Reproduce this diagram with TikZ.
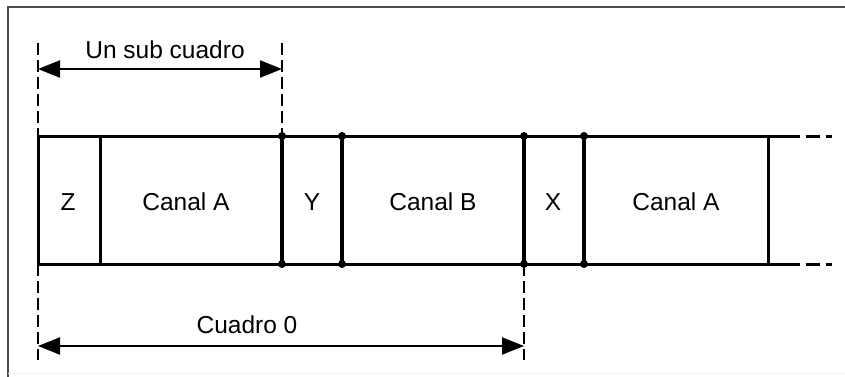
\documentclass[tikz,border=0pt]{standalone}
\usepackage{fontspec}
\setmainfont{Liberation Sans}
\usetikzlibrary{arrows.meta}

\begin{document}
\begin{tikzpicture}[x=1pt,y=-1pt,font=\fontsize{24.5}{28}\selectfont,
  band/.style={line width=3pt},
  sep/.style={line width=4pt},
  dim/.style={line width=2.2pt,{Triangle[length=22pt,width=17pt]}-{Triangle[length=22pt,width=17pt]}},
  guide/.style={line width=1.8pt,dash pattern=on 12pt off 5pt}]
  \useasboundingbox (0,0) rectangle (845,377);
  % page frame
  \draw[gray!60!black,line width=2.4pt] (8,377) -- (8,7) -- (845,7);
  \draw[gray!12,line width=1pt] (8,373) -- (845,373);
  % cell borders along the band
  \foreach \n/\x in {a/38,z/100,b/282,c/342,d/524,e/584,f/768} {
    \coordinate (\n t) at (\x,136);
    \coordinate (\n b) at (\x,264);
  }
  \coordinate (endt) at (786,136);  \coordinate (endb) at (786,264);
  \coordinate (tailt) at (832,136); \coordinate (tailb) at (832,264);
  \draw[band] (endt) -- (at) -- (ab) -- (endb);
  \draw[band,dash pattern=on 14pt off 6pt] (endt) -- (tailt);
  \draw[band,dash pattern=on 14pt off 6pt] (endb) -- (tailb);
  \draw[band] (zt) -- (zb);
  \draw[band] (ft) -- (fb);
  \foreach \n in {b,c,d,e} {
    \draw[sep] (\n t) -- (\n b);
    \fill (\n t) circle (4pt);
    \fill (\n b) circle (4pt);
  }
  \foreach \x/\t [count=\i] in {68/Z,186/Canal A,312/Y,433/Canal B,553/X,676/Canal A}
    \node (cell\i) at (\x,202) {\t};
  % sub frame span
  \coordinate (g1) at (38,43);  \coordinate (g2) at (282,43);
  \draw[guide] (g1) -- (at);
  \draw[guide] (g2) -- (bt);
  \coordinate (s1) at (38,69);  \coordinate (s2) at (282,69);
  \draw[dim] (s1) -- (s2);
  \node (sub) at (165,50) {Un sub cuadro};
  % whole frame span
  \coordinate (g3) at (38,360); \coordinate (g4) at (524,360);
  \draw[guide] (ab) -- (g3);
  \draw[guide] (db) -- (g4);
  \coordinate (f1) at (38,346); \coordinate (f2) at (524,346);
  \draw[dim] (f1) -- (f2);
  \node (frame0) at (247,325) {Cuadro 0};
\end{tikzpicture}
\end{document}
